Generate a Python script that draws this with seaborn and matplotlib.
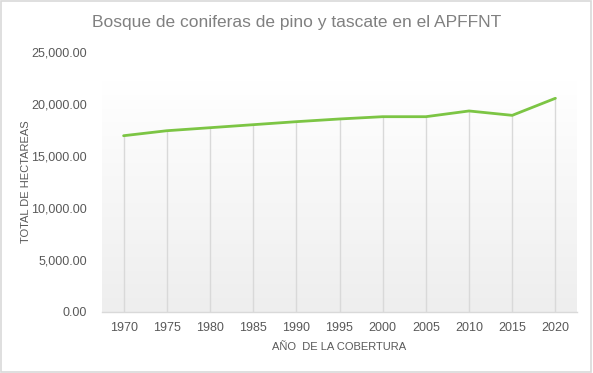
import numpy as np
import pandas as pd
import matplotlib
matplotlib.use("Agg")
import matplotlib.pyplot as plt
import seaborn as sns
from matplotlib.patches import Rectangle
from matplotlib.colors import LinearSegmentedColormap

years = [1970, 1975, 1980, 1985, 1990, 1995, 2000, 2005, 2010, 2015, 2020]
hectareas = [16950, 17430, 17720, 18010, 18300, 18560, 18780, 18780, 19330, 18910, 20550]
yticks = [0, 5000, 10000, 15000, 20000, 25000]

title = "Bosque de coniferas de pino y tascate en el APFFNT"
xlabel = "AÑO  DE LA COBERTURA"
ylabel = "TOTAL DE HECTAREAS"

sns.set_style("white")
plt.rcParams['font.family'] = ['Liberation Sans', 'DejaVu Sans']

df = pd.DataFrame({"year": years, "ha": hectareas})

fig = plt.figure(figsize=(5.93, 3.73), dpi=100)
ax = fig.add_axes([102/593, 61/373, 475/593, 260/373])

# gradient background: white at top, light grey at bottom
grad = np.linspace(0, 1, 256).reshape(-1, 1)
cmap = LinearSegmentedColormap.from_list("g", ["#ffffff", "#eeeeee"])
ax.imshow(grad, aspect="auto", cmap=cmap, extent=[1967.5, 2022.5, 0, 22200],
          origin="upper", zorder=0, vmin=0, vmax=1)

# drop lines
ax.vlines(df["year"], 0, df["ha"], color="#d9d9d9", linewidth=1.0, zorder=1)

sns.lineplot(data=df, x="year", y="ha", color="#7cc544", linewidth=2.0, ax=ax, zorder=3)

ax.set_xlim(1967.5, 2022.5)
ax.set_ylim(0, 25000)
ax.set_xticks(years)
ax.set_xticklabels([str(y) for y in years])
ax.set_yticks(yticks)
ax.set_yticklabels([f"{v:,.2f}" for v in yticks])
ax.tick_params(axis="both", length=0, labelsize=9, colors="#595959")
ax.tick_params(axis="y", pad=11)
ax.tick_params(axis="x", pad=7)

for s in ["top", "right", "left"]:
    ax.spines[s].set_visible(False)
ax.spines["bottom"].set_color("#d9d9d9")
ax.spines["bottom"].set_linewidth(1.0)
ax.patch.set_alpha(0)

ax.set_xlabel(xlabel, fontsize=8, color="#595959", labelpad=6)
ax.set_ylabel(ylabel, fontsize=8, color="#595959")
ax.yaxis.set_label_coords(-71/475, 0.5)

fig.text(0.5, 1 - 22/373, title, ha="center", va="center", fontsize=12.5, color="#808080")

fig.patches.append(Rectangle((0.002, 0.003), 0.995, 0.993, transform=fig.transFigure,
                             fill=False, edgecolor="#d9d9d9", linewidth=1.2))

fig.savefig("out.png", dpi=100)
